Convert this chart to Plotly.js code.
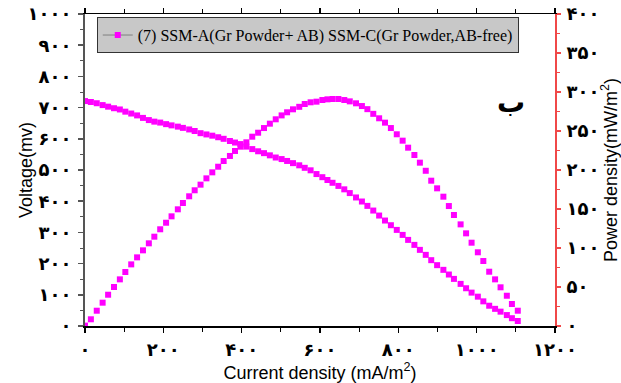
<!DOCTYPE html>
<html><head><meta charset="utf-8">
<script src="https://cdn.plot.ly/plotly-3.0.1.min.js"></script>
<style>html,body{margin:0;padding:0;background:#fff}</style>
</head><body><div id="chart" style="width:621px;height:383px"></div>
<script>
const currentDensity = [0,15,30,45,59,74,89,103,118,133,148,163,177,192,207,221,237,250,266,280,295,310,325,340,354,370,383,397,412,427,442,457,472,487,502,516,531,547,561,576,591,606,619,632,647,662,676,692,707,721,736,751,766,781,796,811,825,841,855,870,884,899,915,929,942,959,973,987,1003,1017,1032,1047,1061,1077,1090,1105];
const voltage = [721,718,714,708,703,698,694,687,681,675,667,660,655,652,647,643,639,635,630,625,618,614,610,605,600,593,588,583,575,567,560,554,547,540,535,529,522,515,507,499,487,477,468,459,449,438,426,412,399,385,370,354,338,323,308,292,276,260,244,228,211,195,180,165,151,135,121,107,94,79,65,55,46,35,25,16];
const powerDensity = [0.5,8.6,19.6,29.9,40.1,50,59.8,69.2,79,88,97,106,114.5,124,132.4,140.6,149.6,157.7,166.3,174,181.2,189.3,197,204.2,211.5,218,224.4,229.9,235.5,242.7,247.8,253.8,259.4,265,270,274,277.8,281,284.6,286.8,287.6,289.7,290.6,291,291,289.7,288,285.5,282,278,272,266.3,260.7,253.8,245.8,237.6,228.6,219.2,209.4,199,186.3,176.5,165.8,153.8,142.3,130.3,118.8,106.8,94.5,83.3,69.6,59.8,49.6,38.8,28.2,19.6];
const legendLabel = "(7) SSM-A(Gr Powder+ AB) SSM-C(Gr Powder,AB-free)";
const xTickVals = [0,200,400,600,800,1000,1200];
const xTickText = ["۰","۲۰۰","۴۰۰","۶۰۰","۸۰۰","۱۰۰۰","۱۲۰۰"];
const vTickVals = [0,100,200,300,400,500,600,700,800,900,1000];
const vTickText = ["۰","۱۰۰","۲۰۰","۳۰۰","۴۰۰","۵۰۰","۶۰۰","۷۰۰","۸۰۰","۹۰۰","۱۰۰۰"];
const pTickVals = [0,50,100,150,200,250,300,350,400];
const pTickText = ["۰","۵۰","۱۰۰","۱۵۰","۲۰۰","۲۵۰","۳۰۰","۳۵۰","۴۰۰"];

const pink = '#ff00ff';
const red = '#f04848';
const tickFont = {family: 'DejaVu Sans', size: 18, color: '#000', weight: 'bold'};
const titleFont = {family: 'Liberation Sans, Arial', size: 18, color: '#000'};

const traces = [
  {x: [null], y: [null], mode: 'lines+markers', name: legendLabel, showlegend: true,
   line: {color: '#808080', width: 1}, marker: {symbol: 'square', size: 6, color: pink}},
  {x: currentDensity, y: voltage, mode: 'markers', showlegend: false, name: 'Voltage',
   marker: {symbol: 'square', size: 6, color: pink}},
  {x: currentDensity, y: powerDensity, yaxis: 'y2', mode: 'markers', showlegend: false, name: 'Power',
   marker: {symbol: 'square', size: 6, color: pink}}
];

const layout = {
  width: 621, height: 383,
  margin: {l: 85, r: 66, t: 14, b: 57},
  paper_bgcolor: '#fff', plot_bgcolor: '#fff',
  showlegend: true,
  xaxis: {
    range: [0, 1200], tickmode: 'array', tickvals: xTickVals, ticktext: xTickText,
    ticks: 'outside', ticklen: 5, tickwidth: 1.5, tickcolor: '#000',
    showline: true, linecolor: '#000', linewidth: 1.5, mirror: 'ticks',
    showgrid: false, zeroline: false, tickfont: tickFont, ticklabelstandoff: 2,
    minor: {tickmode: 'linear', tick0: 0, dtick: 100, ticks: 'outside', ticklen: 4, tickcolor: '#000', tickwidth: 1},
    title: {text: 'Current density (mA/m<sup>2</sup>)', font: titleFont}
  },
  yaxis: {
    range: [0, 1000], tickmode: 'array', tickvals: vTickVals, ticktext: vTickText,
    ticks: 'outside', ticklen: 5, tickwidth: 1.5, tickcolor: '#555',
    showline: true, linecolor: '#555', linewidth: 2,
    showgrid: false, zeroline: false, tickfont: tickFont, ticklabelstandoff: 3,
    minor: {tickmode: 'linear', tick0: 0, dtick: 50, ticks: 'outside', ticklen: 3, tickcolor: '#555', tickwidth: 1},
    title: {text: 'Voltage(mv)', font: titleFont}
  },
  yaxis2: {
    range: [0, 400], overlaying: 'y', side: 'right', tickmode: 'array', tickvals: pTickVals, ticktext: pTickText,
    ticks: 'outside', ticklen: 4, tickwidth: 1.5, tickcolor: red,
    showline: true, linecolor: red, linewidth: 2,
    showgrid: false, zeroline: false, tickfont: tickFont, ticklabelstandoff: 2,
    minor: {tickmode: 'linear', tick0: 0, dtick: 25, ticks: 'outside', ticklen: 3, tickcolor: red, tickwidth: 1},
    title: {text: 'Power density(mW/m<sup>2</sup>)', font: titleFont}
  },
  legend: {
    x: 0.025, y: 0.99, xanchor: 'left', yanchor: 'top',
    bgcolor: '#c8c8c8', bordercolor: '#333', borderwidth: 1,
    font: {family: 'Liberation Serif, Times New Roman', size: 16, color: '#000'},
    itemwidth: 30, tracegroupgap: 0
  },
  annotations: [
    {text: 'ب', xref: 'paper', yref: 'paper', x: 0.94, y: 0.775, showarrow: false,
     font: {family: 'DejaVu Sans', size: 28, color: '#000', weight: 'bold'}}
  ]
};

Plotly.newPlot('chart', traces, layout, {displayModeBar: false, staticPlot: true});
</script>
</body></html>
